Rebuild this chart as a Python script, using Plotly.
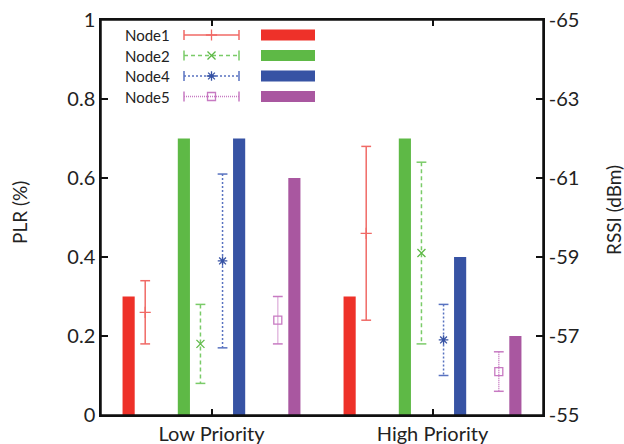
import plotly.graph_objects as go

# ---------------- data ----------------
categories = ["Low Priority", "High Priority"]
nodes = ["Node1", "Node2", "Node4", "Node5"]

# PLR (%) bars, left axis
plr_node1 = [0.3, 0.3]
plr_node2 = [0.7, 0.7]
plr_node4 = [0.7, 0.4]
plr_node5 = [0.6, 0.2]

# RSSI (dBm) mean / min / max, right axis (reversed)
rssi_mean_node1 = [-57.6, -59.6]
rssi_min_node1 = [-58.4, -61.8]
rssi_max_node1 = [-56.8, -57.4]

rssi_mean_node2 = [-56.8, -59.1]
rssi_min_node2 = [-57.8, -61.4]
rssi_max_node2 = [-55.8, -56.8]

rssi_mean_node4 = [-58.9, -56.9]
rssi_min_node4 = [-61.1, -57.8]
rssi_max_node4 = [-56.7, -56.0]

rssi_mean_node5 = [-57.4, -56.1]
rssi_min_node5 = [-58.0, -56.6]
rssi_max_node5 = [-56.8, -55.6]

plr_ticks = [0, 0.2, 0.4, 0.6, 0.8, 1]
rssi_ticks = [-65, -63, -61, -59, -57, -55]

# ---------------- style ----------------
FONT = "Lato"
bar_colors = ["#EE3129", "#5EB946", "#3753A4", "#A957A0"]
err_colors = ["#F06A66", "#7ACB68", "#5872C0", "#C77AC2"]
err_dash = ["solid", "4px,3px", "2px,2px", "1px,1px"]
mean_symbols = ["cross-thin", "x-thin", "asterisk", "square-open"]
bar_offsets = [-0.375, -0.125, 0.125, 0.375]
err_offsets = [-0.3, -0.05, 0.05, 0.3]
bar_width = 0.055
FRAME = "#111"

# plot area in window pixels
PX_L, PX_R, PX_T, PX_B = 101, 543, 20, 415
X_RANGE = [-0.5, 1.5]

def px_to_x(px):
    return X_RANGE[0] + (px - PX_L) / (PX_R - PX_L) * (X_RANGE[1] - X_RANGE[0])

def py_to_y(py):
    return (PX_B - py) / (PX_B - PX_T)

plr = [plr_node1, plr_node2, plr_node4, plr_node5]
means = [rssi_mean_node1, rssi_mean_node2, rssi_mean_node4, rssi_mean_node5]
mins = [rssi_min_node1, rssi_min_node2, rssi_min_node4, rssi_min_node5]
maxs = [rssi_max_node1, rssi_max_node2, rssi_max_node4, rssi_max_node5]

fig = go.Figure()
groups = list(range(len(categories)))

for k, name in enumerate(nodes):
    # bars
    fig.add_trace(go.Bar(
        x=[g + bar_offsets[k] for g in groups], y=plr[k], width=bar_width,
        marker=dict(color=bar_colors[k], line=dict(width=0)),
        name=name, showlegend=False, xaxis="x", yaxis="y"))
    # error bar vertical lines
    xs, ys = [], []
    for g in groups:
        xe = g + err_offsets[k]
        xs += [xe, xe, None]
        ys += [mins[k][g], maxs[k][g], None]
    fig.add_trace(go.Scatter(
        x=xs, y=ys, mode="lines",
        line=dict(color=err_colors[k], width=1.5, dash=err_dash[k]),
        showlegend=False, xaxis="x", yaxis="y2", hoverinfo="skip"))
    # caps
    cx, cy = [], []
    for g in groups:
        xe = g + err_offsets[k]
        cx += [xe, xe]
        cy += [mins[k][g], maxs[k][g]]
    fig.add_trace(go.Scatter(
        x=cx, y=cy, mode="markers",
        marker=dict(symbol="line-ew", size=7, line=dict(color=err_colors[k], width=1.5)),
        showlegend=False, xaxis="x", yaxis="y2", hoverinfo="skip"))
    # means
    fig.add_trace(go.Scatter(
        x=[g + err_offsets[k] for g in groups], y=means[k], mode="markers",
        marker=dict(symbol=mean_symbols[k], size=8, color=err_colors[k],
                    line=dict(color=bar_colors[k] if k != 0 else err_colors[k], width=1.3)),
        showlegend=False, xaxis="x", yaxis="y2"))

# ---------------- legend (hand-built, drawn on the top mirror axis x2) ----------------
leg_rows = [35, 55.5, 76, 96.5]
leg_text_x = 172
leg_err_x0, leg_err_x1 = 184, 239
leg_bar_x0, leg_bar_x1 = 261, 315
for k, name in enumerate(nodes):
    yr = py_to_y(leg_rows[k])
    ex0, ex1 = px_to_x(leg_err_x0), px_to_x(leg_err_x1)
    fig.add_trace(go.Scatter(
        x=[ex0, ex1], y=[yr, yr], mode="lines",
        line=dict(color=err_colors[k], width=1.5, dash=err_dash[k]),
        showlegend=False, xaxis="x2", yaxis="y", hoverinfo="skip"))
    fig.add_trace(go.Scatter(
        x=[ex0, ex1], y=[yr, yr], mode="markers",
        marker=dict(symbol="line-ns", size=7, line=dict(color=err_colors[k], width=1.5)),
        showlegend=False, xaxis="x2", yaxis="y", hoverinfo="skip"))
    fig.add_trace(go.Scatter(
        x=[(ex0 + ex1) / 2], y=[yr], mode="markers",
        marker=dict(symbol=mean_symbols[k], size=8, color=err_colors[k],
                    line=dict(color=bar_colors[k] if k != 0 else err_colors[k], width=1.3)),
        showlegend=False, xaxis="x2", yaxis="y", hoverinfo="skip"))
    fig.add_shape(type="rect", xref="x", yref="y",
                  x0=px_to_x(leg_bar_x0), x1=px_to_x(leg_bar_x1),
                  y0=py_to_y(leg_rows[k] + 5.5), y1=py_to_y(leg_rows[k] - 5.5),
                  fillcolor=bar_colors[k], line=dict(width=0))
    fig.add_annotation(x=px_to_x(leg_text_x), y=yr, xref="x", yref="y", text=name,
                       showarrow=False, xanchor="right", yanchor="middle",
                       font=dict(family=FONT, size=15, color="#222"))

# full frame around the plot area
fig.add_shape(type="rect", xref="paper", yref="paper", x0=0, x1=1, y0=0, y1=1,
              line=dict(color=FRAME, width=1.5), fillcolor="rgba(0,0,0,0)", layer="above")

# axis titles
def px_to_paper_x(px):
    return (px - PX_L) / (PX_R - PX_L)

fig.add_annotation(x=px_to_paper_x(19), y=py_to_y(213), xref="paper", yref="paper",
                   text="PLR (%)", textangle=-90, showarrow=False,
                   xanchor="center", yanchor="middle",
                   font=dict(family=FONT, size=19, color="#222"))
fig.add_annotation(x=px_to_paper_x(613), y=py_to_y(210), xref="paper", yref="paper",
                   text="RSSI (dBm)", textangle=-90, showarrow=False,
                   xanchor="center", yanchor="middle",
                   font=dict(family=FONT, size=19, color="#222"))

axis_line = dict(showline=True, linecolor=FRAME, linewidth=1.5)
fig.update_layout(
    width=624, height=444,
    margin=dict(l=PX_L, r=624 - PX_R, t=PX_T, b=444 - PX_B, autoexpand=False),
    paper_bgcolor="white", plot_bgcolor="white",
    font=dict(family=FONT, size=20, color="#222"),
    barmode="overlay",
    xaxis=dict(range=X_RANGE, tickvals=groups, ticktext=categories,
               ticks="inside", ticklen=6, tickcolor=FRAME, tickwidth=1.5,
               showgrid=False, zeroline=False, automargin=False,
               **axis_line),
    xaxis2=dict(range=X_RANGE, tickvals=groups, showticklabels=False,
                overlaying="x", side="top", anchor="y",
                ticks="inside", ticklen=6, tickcolor=FRAME, tickwidth=1.5,
                showgrid=False, zeroline=False, automargin=False, **axis_line),
    yaxis=dict(range=[0, 1], tickvals=plr_ticks, ticktext=[f"{v:g}" for v in plr_ticks],
               ticks="inside", ticklen=7, tickcolor=FRAME, tickwidth=1.5,
               showgrid=False, zeroline=False, automargin=False,
               **axis_line),
    yaxis2=dict(range=[-55, -65], tickvals=rssi_ticks, ticktext=[str(v) for v in rssi_ticks],
                overlaying="y", side="right", anchor="x",
                ticks="inside", ticklen=7, tickcolor=FRAME, tickwidth=1.5,
                showgrid=False, zeroline=False, automargin=False, **axis_line),
)

# remove the default page margin so the figure sits at the window's top-left corner
fig.write_html(
    "out.html",
    config={"displayModeBar": False},
    post_script="document.body.style.margin='0';document.body.style.overflow='hidden';",
)
